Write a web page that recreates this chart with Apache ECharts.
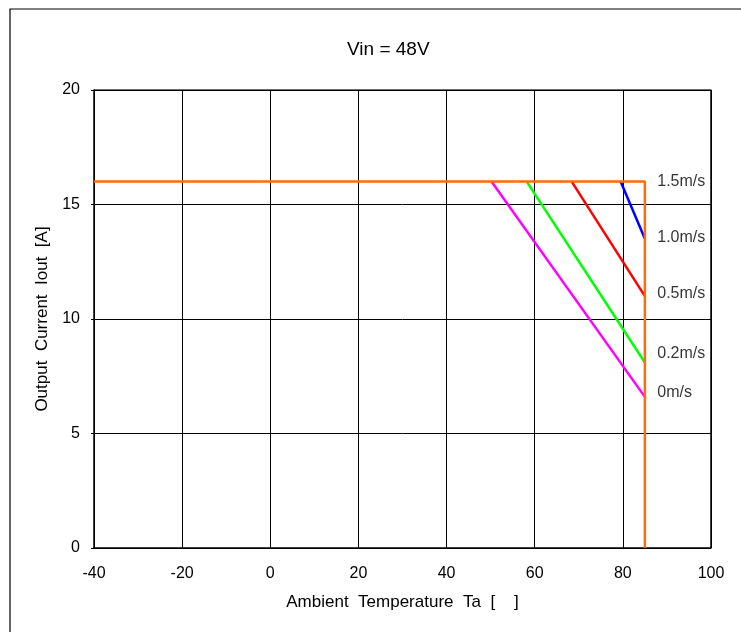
<!DOCTYPE html>
<html>
<head>
<meta charset="utf-8">
<script src="https://cdn.jsdelivr.net/npm/echarts@6/dist/echarts.min.js"></script>
<style>html,body{margin:0;padding:0;background:#fff}#c{width:741px;height:632px}</style>
</head>
<body>
<div id="c"></div>
<script>
var titleText = 'Vin = 48V';
var xName = 'Ambient  Temperature  Ta  [    ]';
var yName = 'Output  Current  Iout  [A]';
var s15 = [[79.5, 16], [85, 13.5]];
var s10 = [[68.4, 16], [85, 11.0]];
var s05 = [[58.2, 16], [85, 8.1]];
var s00 = [[50.2, 16], [85, 6.6]];
var sMax = [[-40, 16], [85, 16], [85, 0]];
var labelNames = ['1.5m/s', '1.0m/s', '0.5m/s', '0.2m/s', '0m/s'];
var labelPos = [[87.8, 16.0], [87.8, 13.55], [87.8, 11.1], [87.8, 8.5], [87.8, 6.8]];

var font = '"Liberation Sans", Arial, sans-serif';
var chart = echarts.init(document.getElementById('c'), null, {renderer: 'canvas'});
function line(data, color) {
  return {type: 'line', data: data, symbol: 'none', animation: false,
    lineStyle: {color: color, width: 2.5}, z: 3};
}
chart.setOption({
  animation: false,
  backgroundColor: '#fff',
  title: {text: titleText, left: 342, top: 35,
    textStyle: {fontFamily: font, fontSize: 19, fontWeight: 'normal', color: '#000'}},
  graphic: [{type: 'rect', shape: {x: 10, y: 9, width: 900, height: 800},
    style: {fill: 'none', stroke: '#000', lineWidth: 1.2}, silent: true}],
  grid: {left: 94, right: 30, top: 90, bottom: 84, show: false},
  xAxis: {type: 'value', min: -40, max: 100, interval: 20,
    name: xName, nameLocation: 'middle', nameGap: 46,
    nameTextStyle: {fontFamily: font, fontSize: 17, color: '#000'},
    axisLine: {show: true, onZero: false, lineStyle: {color: '#000', width: 1.5}},
    axisTick: {show: false},
    axisLabel: {fontFamily: font, fontSize: 16, color: '#000', margin: 18},
    splitLine: {show: true, lineStyle: {color: '#000', width: 1}}},
  yAxis: {type: 'value', min: 0, max: 20, interval: 5,
    name: yName, nameLocation: 'middle', nameGap: 40, nameRotate: 90,
    nameTextStyle: {fontFamily: font, fontSize: 17, color: '#000'},
    axisLine: {show: true, onZero: false, lineStyle: {color: '#000', width: 1.5}},
    axisTick: {show: true, inside: false, length: 3, lineStyle: {color: '#000'}},
    axisLabel: {fontFamily: font, fontSize: 16, color: '#000', margin: 14},
    splitLine: {show: true, lineStyle: {color: '#000', width: 1}}},
  series: [
    {type: 'line', data: [[-40, 20], [100, 20], [100, 0]], symbol: 'none', silent: true,
      lineStyle: {color: '#000', width: 1.5}, z: 2},
    line(s15, '#0000ff'),
    line(s10, '#ff0000'),
    line(s05, '#00ff00'),
    line(s00, '#ff00ff'),
    line(sMax, '#ff6a13'),
    {type: 'scatter', symbolSize: 0, silent: true,
      data: labelPos.map(function (p, i) { return {value: p, name: labelNames[i]}; }),
      label: {show: true, position: 'right', distance: 0, formatter: '{b}',
        fontFamily: font, fontSize: 16, color: '#000'}}
  ]
});
</script>
</body>
</html>
